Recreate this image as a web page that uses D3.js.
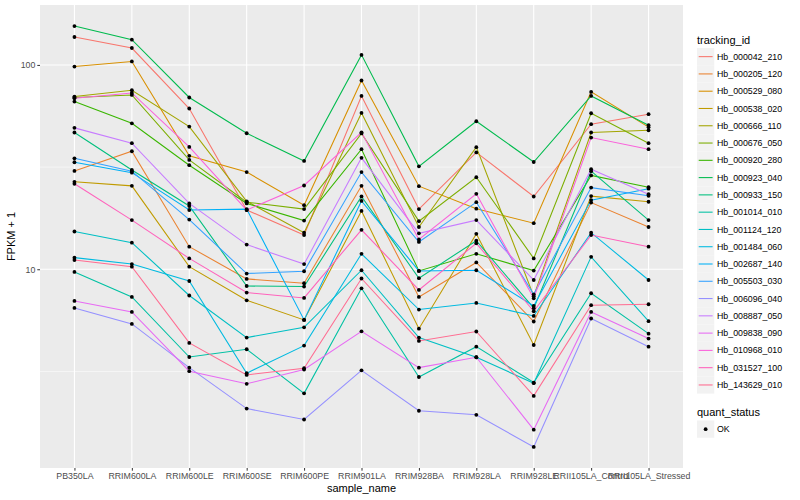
<!DOCTYPE html>
<html>
<head>
<meta charset="utf-8">
<script src="https://cdn.jsdelivr.net/npm/d3@7"></script>
<style>
  body { margin: 0; background: #fff; }
  text { font-family: "Liberation Sans", Arial, Helvetica, sans-serif; }
</style>
</head>
<body>
<div id="chart"></div>
<script>
// sample names on the x axis
const samples = ["PB350LA", "RRIM600LA", "RRIM600LE", "RRIM600SE", "RRIM600PE", "RRIM901LA",
    "RRIM928BA", "RRIM928LA", "RRIM928LE", "RRII105LA_Control", "RRII105LA_Stressed"];

const trackingIds = ["Hb_000042_210", "Hb_000205_120", "Hb_000529_080", "Hb_000538_020", "Hb_000666_110",
    "Hb_000676_050", "Hb_000920_280", "Hb_000923_040", "Hb_000933_150", "Hb_001014_010",
    "Hb_001124_120", "Hb_001484_060", "Hb_002687_140", "Hb_005503_030", "Hb_006096_040",
    "Hb_008887_050", "Hb_009838_090", "Hb_010968_010", "Hb_031527_100", "Hb_143629_010"];

// FPKM + 1, one row per tracking_id, in sample order
const fpkm = [
    [137, 121, 61.2, 19.5, 14.7, 70.5, 19.7, 37.3, 22.7, 51.3, 57.4],
    [30.3, 37.8, 12.9, 8.97, 8.54, 25.6, 7.32, 10.8, 5.55, 21.2, 16.1],
    [98.2, 104, 35.9, 29.9, 20.6, 83.9, 25.5, 19.8, 16.8, 73.8, 49.6],
    [26.8, 25.6, 10.3, 7.05, 5.65, 19.3, 5.12, 14.9, 4.26, 22.8, 21.4],
    [70.0, 75.2, 49.9, 21.5, 15.1, 58.2, 16.1, 39.6, 7.38, 46.7, 47.9],
    [69.3, 71.3, 34.3, 21.3, 19.7, 46.2, 17.2, 28.2, 11.3, 58.0, 41.4],
    [66.2, 51.8, 32.3, 21.0, 17.3, 38.7, 9.81, 11.9, 9.85, 28.8, 25.2],
    [155, 133, 69.3, 46.3, 33.9, 112, 31.9, 53.0, 33.5, 70.5, 50.7],
    [46.7, 30.6, 20.4, 8.28, 8.23, 22.7, 9.04, 13.8, 6.45, 30.2, 17.4],
    [9.70, 7.32, 3.72, 4.06, 2.47, 8.07, 2.97, 4.18, 2.79, 7.63, 4.84],
    [15.3, 13.5, 7.44, 4.63, 5.20, 9.89, 4.63, 3.71, 2.77, 11.5, 5.57],
    [11.4, 10.6, 8.76, 3.10, 4.23, 11.9, 6.35, 6.84, 5.91, 15.1, 8.86],
    [33.4, 29.7, 19.5, 19.7, 5.65, 21.6, 9.81, 9.89, 6.61, 21.8, 24.8],
    [34.9, 30.2, 17.5, 9.53, 9.78, 29.9, 13.6, 21.3, 7.54, 25.1, 22.9],
    [6.47, 5.40, 3.30, 2.08, 1.84, 3.20, 2.03, 1.94, 1.35, 5.74, 4.18],
    [49.2, 41.4, 21.0, 13.2, 10.6, 35.1, 15.0, 17.4, 8.86, 30.9, 23.3],
    [7.00, 6.18, 3.17, 2.75, 3.23, 4.97, 3.30, 3.71, 1.64, 6.18, 4.58],
    [68.7, 72.9, 39.7, 19.5, 25.7, 46.8, 14.0, 23.4, 7.21, 44.1, 38.7],
    [26.2, 17.4, 11.3, 7.69, 7.24, 15.6, 7.92, 13.4, 6.23, 14.7, 12.9],
    [11.1, 10.3, 4.36, 3.04, 3.28, 9.01, 4.46, 4.96, 2.40, 6.67, 6.74]
];

const colors = ["#F8766D", "#EA8331", "#D89000", "#C09B00", "#A3A500", "#7CAE00", "#39B600", "#00BB4E",
    "#00BF7D", "#00C1A3", "#00BFC4", "#00BAE0", "#00B0F6", "#35A2FF", "#9590FF", "#C77CFF",
    "#E76BF3", "#FA62DB", "#FF62BC", "#FF6C91"];

const yBreaks = [10, 100];
const yMinor = [Math.pow(10, 0.5), Math.pow(10, 1.5)];
const quantStatus = ["OK"];

const svg = d3.select("#chart").append("svg").attr("width", 800).attr("height", 500);
const margin = { top: 5, right: 117, bottom: 32, left: 40 };
const width = 800 - margin.left - margin.right;
const height = 500 - margin.top - margin.bottom;

const panel = svg.append("g").attr("transform", `translate(${margin.left},${margin.top})`);

// scales (ggplot-like expansion: 0.6 units for discrete, 5% for log)
const x = d3.scalePoint().domain(samples).range([0, width]).padding(0.6);

const allVals = fpkm.flat();
const lmin = Math.log10(d3.min(allVals)), lmax = Math.log10(d3.max(allVals));
const pad = (lmax - lmin) * 0.05;
const y = d3.scaleLog()
    .domain([Math.pow(10, lmin - pad), Math.pow(10, lmax + pad)])
    .range([height, 0]);

panel.append("rect").attr("width", width).attr("height", height).attr("fill", "#EBEBEB");

// grid
panel.selectAll(".minor").data(yMinor).join("line")
    .attr("x1", 0).attr("x2", width)
    .attr("y1", d => y(d)).attr("y2", d => y(d))
    .attr("stroke", "#fff").attr("stroke-width", 0.55);

panel.selectAll(".major").data(yBreaks).join("line")
    .attr("x1", 0).attr("x2", width)
    .attr("y1", d => y(d)).attr("y2", d => y(d))
    .attr("stroke", "#fff").attr("stroke-width", 1.1);

panel.selectAll(".vmajor").data(samples).join("line")
    .attr("x1", d => x(d)).attr("x2", d => x(d))
    .attr("y1", 0).attr("y2", height)
    .attr("stroke", "#fff").attr("stroke-width", 1.1);

// lines
const line = d3.line().x((d, i) => x(samples[i])).y(d => y(d));
panel.selectAll(".series").data(fpkm).join("path")
    .attr("d", line)
    .attr("fill", "none")
    .attr("stroke", (d, i) => colors[i])
    .attr("stroke-width", 1.07);

// points
fpkm.forEach(row => {
    panel.selectAll(null).data(row).join("circle")
        .attr("cx", (d, i) => x(samples[i]))
        .attr("cy", d => y(d))
        .attr("r", 1.9)
        .attr("fill", "#000");
});

// axes
const gy = panel.append("g")
    .call(d3.axisLeft(y).tickValues(yBreaks).tickFormat(d3.format("d")).tickSize(2.7).tickPadding(2));
gy.select(".domain").remove();
gy.selectAll("line").attr("stroke", "#333");
gy.selectAll("text").attr("fill", "#4D4D4D").style("font-size", "8.8px");

const gx = panel.append("g").attr("transform", `translate(0,${height})`)
    .call(d3.axisBottom(x).tickSize(2.7).tickPadding(2));
gx.select(".domain").remove();
gx.selectAll("line").attr("stroke", "#333");
gx.selectAll("text").attr("fill", "#4D4D4D").style("font-size", "8.8px");

svg.append("text")
    .attr("x", margin.left + width / 2).attr("y", 492)
    .attr("text-anchor", "middle").style("font-size", "11px").text("sample_name");

svg.append("text")
    .attr("transform", `translate(15,${margin.top + height / 2}) rotate(-90)`)
    .attr("text-anchor", "middle").style("font-size", "11px").text("FPKM + 1");

// legend: tracking_id
const legend = svg.append("g").attr("transform", "translate(697,0)");
legend.append("text").attr("x", 0).attr("y", 44).style("font-size", "11px").text("tracking_id");

const keys = legend.selectAll(".key").data(trackingIds).join("g")
    .attr("transform", (d, i) => `translate(0,${48 + i * 17.28})`);
keys.append("rect").attr("width", 17.28).attr("height", 17.28).attr("fill", "#F2F2F2");
keys.append("line")
    .attr("x1", 1.7).attr("x2", 15.6).attr("y1", 8.64).attr("y2", 8.64)
    .attr("stroke", (d, i) => colors[i]).attr("stroke-width", 1.07);
keys.append("text")
    .attr("x", 20).attr("y", 8.64).attr("dy", "0.35em")
    .style("font-size", "8.8px").text(d => d);

// legend: quant_status
const legend2 = svg.append("g").attr("transform", "translate(697,0)");
legend2.append("text").attr("x", 0).attr("y", 416).style("font-size", "11px").text("quant_status");
const k2 = legend2.selectAll(".key2").data(quantStatus).join("g")
    .attr("transform", (d, i) => `translate(0,${420.5 + i * 17.28})`);
k2.append("rect").attr("width", 17.28).attr("height", 17.28).attr("fill", "#F2F2F2");
k2.append("circle").attr("cx", 8.64).attr("cy", 8.64).attr("r", 1.9).attr("fill", "#000");
k2.append("text").attr("x", 20).attr("y", 8.64).attr("dy", "0.35em")
    .style("font-size", "8.8px").text(d => d);
</script>
</body>
</html>
